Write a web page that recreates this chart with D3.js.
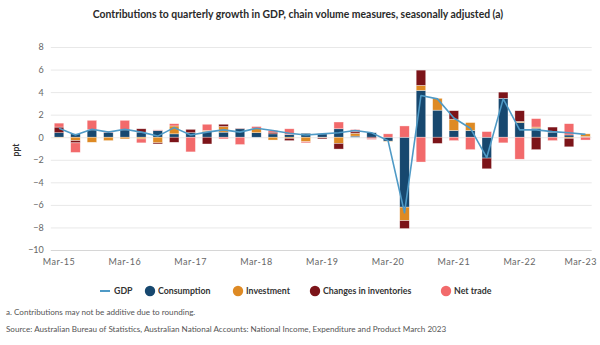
<!DOCTYPE html>
<html>
<head>
<meta charset="utf-8">
<script src="https://cdn.jsdelivr.net/npm/d3@7"></script>
<style>
  html, body { margin: 0; padding: 0; background: #fff; }
  svg { display: block; font-family: Lato, "Open Sans", sans-serif; }
</style>
</head>
<body>
<svg id="chart" width="600" height="345"></svg>
<script>
// Quarterly contributions to GDP growth (percentage points)
const quarters = [
  "Mar-15","Jun-15","Sep-15","Dec-15","Mar-16","Jun-16","Sep-16","Dec-16",
  "Mar-17","Jun-17","Sep-17","Dec-17","Mar-18","Jun-18","Sep-18","Dec-18",
  "Mar-19","Jun-19","Sep-19","Dec-19","Mar-20","Jun-20","Sep-20","Dec-20",
  "Mar-21","Jun-21","Sep-21","Dec-21","Mar-22","Jun-22","Sep-22","Dec-22","Mar-23"
];
const consumption = [0.4,0.3,0.65,0.4,0.65,0.45,0.6,0.3, 0.4,0.5,0.45,0.75,0.4,0.3,0.25,0.35,
  0.3,0.75,0.1,0.4,-0.35,-6.2,4.15,2.4, 0.6,0.6,-1.85,3.45,1.3,0.8,0.45,0.2,0.05];
const investment = [-0.05,-0.3,-0.45,-0.3,-0.15,-0.15,-0.5,0.7, 0.0,0.1,0.5,0.0,0.4,-0.25,-0.1,-0.4,
  -0.05,-0.55,0.25,0.0,-0.05,-1.2,0.45,1.05, 1.0,0.7,0.0,0.0,0.1,0.1,0.0,-0.1,0.25];
const inventories = [0.5,-0.2,0.05,0.0,0.05,0.3,-0.1,-0.45, 0.3,-0.6,0.2,0.05,0.0,0.15,-0.2,0.0,
  -0.1,-0.5,0.13,-0.1,0.0,-0.7,1.35,-0.55, 0.75,0.0,-0.95,0.55,0.95,-1.1,0.45,-0.75,0.0];
const netTrade = [0.35,-0.85,0.8,0.15,0.8,-0.35,0.05,0.2, -1.3,0.55,-0.15,-0.65,0.15,0.15,0.5,-0.1,
  0.05,0.6,0.2,-0.1,0.3,1.0,-2.2,0.0, -0.3,-1.1,0.5,-0.5,-1.95,0.75,-0.3,1.0,-0.25];
const gdp = [0.8,0.2,0.7,0.45,0.7,0.45,0.1,0.85, 0.2,0.45,0.65,0.45,0.8,0.6,0.35,0.2,
  0.3,0.4,0.6,0.4,-0.3,-6.7,3.7,3.4, 1.7,0.8,-1.8,3.4,0.65,0.65,0.5,0.4,0.25];
const yTicks = [-10,-8,-6,-4,-2,0,2,4,6,8];
const xTickLabels = ["Mar-15","Mar-16","Mar-17","Mar-18","Mar-19","Mar-20","Mar-21","Mar-22","Mar-23"];

const seriesKeys = ["consumption","investment","inventories","netTrade"];
const seriesNames = {consumption:"Consumption", investment:"Investment", inventories:"Changes in inventories", netTrade:"Net trade"};
const colors = {consumption:"#17486f", investment:"#de8a24", inventories:"#7c1419", netTrade:"#f26a6b", gdp:"#4f9ac6"};

const rows = quarters.map((q, i) => ({
  quarter: q, consumption: consumption[i], investment: investment[i],
  inventories: inventories[i], netTrade: netTrade[i], gdp: gdp[i]
}));

const svg = d3.select("#chart");
const plot = {left: 50.8, right: 593.7, top: 47, bottom: 250};

const x = d3.scaleBand().domain(quarters).range([plot.left, plot.right])
  .paddingInner(0.42).paddingOuter(0.21);
const y = d3.scaleLinear().domain([-10, 8]).range([plot.bottom, plot.top]);

// Title
svg.append("text").attr("x", 298).attr("y", 18).attr("text-anchor", "middle")
  .attr("font-size", 10.4).attr("font-weight", 700).attr("fill", "#2a2a2a")
  .text("Contributions to quarterly growth in GDP, chain volume measures, seasonally adjusted (a)");

// Gridlines and y axis
const yAxis = d3.axisLeft(y).tickValues(yTicks).tickSize(-(plot.right - plot.left - 2)).tickPadding(7)
  .tickFormat(d => d < 0 ? "\u2212" + Math.abs(d) : d);
const gy = svg.append("g").attr("transform", `translate(${plot.left},0)`).call(yAxis);
gy.select(".domain").remove();
gy.selectAll(".tick line").attr("stroke", d => d === -10 ? "#d6d6d6" : "#e8e8e8").attr("stroke-width", 1);
gy.selectAll(".tick text").attr("font-size", 9).attr("fill", "#666").attr("font-family", "Lato, sans-serif");

// y axis title
svg.append("text").attr("transform", "translate(19,150) rotate(-90)").attr("text-anchor", "middle")
  .attr("font-size", 8.5).attr("font-weight", 700).attr("fill", "#333").text("ppt");

// x axis labels
const xAxis = d3.axisBottom(x).tickValues(xTickLabels).tickSize(0).tickPadding(9);
const gx = svg.append("g").attr("transform", `translate(0,${plot.bottom})`).call(xAxis);
gx.select(".domain").remove();
gx.selectAll(".tick text").attr("font-size", 9).attr("fill", "#666")
  .attr("letter-spacing", 0.5).attr("font-family", "Lato, sans-serif");
// keep the last label inside the frame
gx.selectAll(".tick").each(function(d) {
  const t = d3.select(this).select("text");
  const w = t.node().getComputedTextLength();
  const cx = x(d) + x.bandwidth() / 2;
  if (cx + w / 2 > 597) t.attr("dx", (597 - (cx + w / 2)));
});

// Stacked bars
const stack = d3.stack().keys(seriesKeys).offset(d3.stackOffsetDiverging);
const layers = stack(rows);
svg.append("g").selectAll("g").data(layers).join("g")
  .attr("fill", d => colors[d.key])
  .selectAll("rect").data(d => d).join("rect")
  .attr("x", d => x(d.data.quarter))
  .attr("width", x.bandwidth())
  .attr("y", d => y(Math.max(d[0], d[1])))
  .attr("height", d => Math.abs(y(d[0]) - y(d[1])))
  .attr("stroke", "#fff").attr("stroke-opacity", 0.6).attr("stroke-width", 0.6);

// GDP line
const line = d3.line().x(d => x(d.quarter) + x.bandwidth() / 2).y(d => y(d.gdp));
svg.append("path").datum(rows).attr("d", line).attr("fill", "none")
  .attr("stroke", colors.gdp).attr("stroke-width", 1.6).attr("stroke-linejoin", "round");

// Legend
const legendY = 291;
const lg = svg.append("g").attr("font-size", 8.8).attr("font-weight", 700).attr("fill", "#333");
lg.append("line").attr("x1", 100).attr("x2", 110).attr("y1", legendY).attr("y2", legendY)
  .attr("stroke", colors.gdp).attr("stroke-width", 2);
lg.append("text").attr("x", 114).attr("y", legendY + 3).text("GDP");
const legendPos = {consumption: 150, investment: 238, inventories: 315, netTrade: 446};
seriesKeys.forEach(k => {
  lg.append("circle").attr("cx", legendPos[k]).attr("cy", legendY).attr("r", 5.2).attr("fill", colors[k]);
  lg.append("text").attr("x", legendPos[k] + 8).attr("y", legendY + 3).text(seriesNames[k]);
});

// Notes
svg.append("text").attr("x", 6).attr("y", 315).attr("font-size", 8.1).attr("fill", "#555")
  .text("a. Contributions may not be additive due to rounding.");
svg.append("text").attr("x", 6).attr("y", 332).attr("font-size", 8.1).attr("fill", "#555")
  .text("Source: Australian Bureau of Statistics, Australian National Accounts: National Income, Expenditure and Product March 2023");
</script>
</body>
</html>
